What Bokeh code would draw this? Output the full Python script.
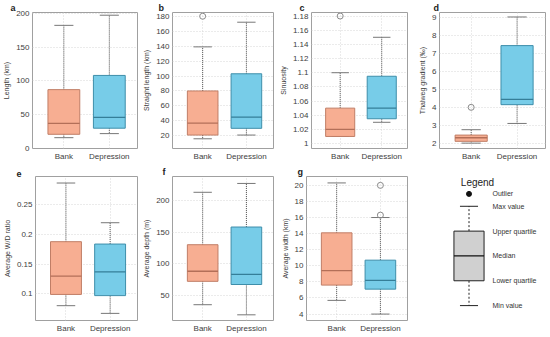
from bokeh.plotting import figure
from bokeh.layouts import row, column
from bokeh.models import Range1d, FixedTicker, Label, ColumnDataSource
from bokeh.core.properties import value
from bokeh.embed import file_html
from bokeh.resources import INLINE

FONT = "Liberation Sans"
categories = ["Bank", "Depression"]

# stats per panel: [min, q1, median, q3, max]
length_bank = [16, 21, 37, 87, 182]
length_dep = [22, 30, 46, 108, 197]
length_out = [[], []]

straight_bank = [16, 21, 37, 80, 139]
straight_dep = [21, 30, 45, 103, 172]
straight_out = [[180], []]

sinu_bank = [1.01, 1.01, 1.02, 1.05, 1.10]
sinu_dep = [1.03, 1.035, 1.05, 1.095, 1.15]
sinu_out = [[1.18], []]

thal_bank = [2.0, 2.1, 2.3, 2.45, 2.75]
thal_dep = [3.1, 4.15, 4.45, 7.45, 9.05]
thal_out = [[4.0], []]

wd_bank = [0.08, 0.099, 0.13, 0.188, 0.287]
wd_dep = [0.067, 0.097, 0.137, 0.184, 0.22]
wd_out = [[], []]

depth_bank = [35, 72, 88, 130, 213]
depth_dep = [19, 67, 83, 158, 227]
depth_out = [[], []]

width_bank = [5.7, 7.6, 9.4, 14.1, 20.3]
width_dep = [4.0, 7.1, 8.2, 10.7, 16.0]
width_out = [[], [16.3, 20.0]]

legend_stats = [0, 1, 2, 3, 4]
legend_out = [4.5]
legend_labels = ["Outlier", "Max value", "Upper quartile", "Median", "Lower quartile", "Min value"]

FILLS = ["#F7AE92", "#77CCE8"]
EDGES = ["#C07E66", "#3E8EAA"]
MEDS = ["#B36F58", "#357E98"]
BW = 0.70
CAP = 0.42
XR = (0.31, 2.62)


def draw_box(p, x, st, fill, edge, med, whisk="#555555", cap="#777777", wdash="1 1"):
    mn, q1, md, q3, mx = st
    p.segment(x0=[x, x], y0=[q3, q1], x1=[x, x], y1=[mx, mn], line_color=whisk,
              line_dash=wdash, line_width=1)
    p.segment(x0=[x - CAP / 2] * 2, y0=[mx, mn], x1=[x + CAP / 2] * 2, y1=[mx, mn],
              line_color=cap, line_width=1)
    p.quad(left=[x - BW / 2], right=[x + BW / 2], bottom=[q1], top=[q3],
           fill_color=fill, line_color=edge, line_width=1)
    p.segment(x0=[x - BW / 2], y0=[md], x1=[x + BW / 2], y1=[md], line_color=med, line_width=1.3)


def panel(letter, ylabel, bank, dep, outs, yr, ticks, fmt, w, h, bl, bb, br, loff):
    p = figure(width=w, height=h, output_backend="svg", toolbar_location=None,
               x_range=Range1d(*XR), y_range=Range1d(*yr),
               min_border_left=bl, min_border_top=0, min_border_bottom=bb, min_border_right=br)
    p.title.text = letter
    p.title.text_font = FONT
    p.title.text_font_size = "9px"
    p.title.text_font_style = "bold"
    p.title.text_color = "#222222"
    p.title.align = "left"
    p.title.offset = -loff
    p.title.standoff = 0
    p.outline_line_color = "#a0a0a0"
    p.outline_line_width = 1
    p.background_fill_color = "white"
    p.border_fill_color = "white"
    p.xgrid.ticker = FixedTicker(ticks=[1, 2])
    for g in (p.xgrid, p.ygrid):
        g.grid_line_color = "#d6d6d6"
        g.grid_line_dash = "1 2"
    p.xaxis.ticker = FixedTicker(ticks=[1, 2])
    p.xaxis.major_label_overrides = {1: categories[0], 2: categories[1]}
    p.yaxis.ticker = FixedTicker(ticks=ticks)
    p.yaxis.major_label_overrides = {t: fmt(t) for t in ticks}
    for ax in (p.xaxis, p.yaxis):
        ax.axis_line_color = None
        ax.major_tick_line_color = None
        ax.minor_tick_line_color = None
        ax.major_tick_out = 0
        ax.major_tick_in = 0
        ax.minor_tick_out = 0
        ax.minor_tick_in = 0
        ax.major_label_text_font = FONT
        ax.major_label_text_font_size = "8px"
        ax.major_label_text_color = "#404040"
        ax.major_label_standoff = 3
    p.yaxis.axis_label = ylabel
    p.yaxis.axis_label_text_font = FONT
    p.yaxis.axis_label_text_font_size = "7px"
    p.yaxis.axis_label_text_font_style = "normal"
    p.yaxis.axis_label_text_color = "#404040"
    p.yaxis.axis_label_standoff = 3
    for i, st in enumerate([bank, dep]):
        draw_box(p, i + 1, st, FILLS[i], EDGES[i], MEDS[i])
        if outs[i]:
            p.scatter(x=[i + 1] * len(outs[i]), y=outs[i], size=6, marker="circle",
                      fill_color=None, line_color="#8a8a8a", line_width=1)
    return p


def nf(t):
    return "%g" % t


TH, BH = 163, 172
W = [140, 136, 134, 138]
BL = [32, 30, 30, 29]
pa = panel("a", "Length (km)", length_bank, length_dep, length_out, (0, 201),
           [0, 50, 100, 150, 200], nf, W[0], TH, BL[0], 14, 3, 22)
pb = panel("b", "Straight length (km)", straight_bank, straight_dep, straight_out, (3, 185),
           [20, 40, 60, 80, 100, 120, 140, 160, 180], nf, W[1], TH, BL[1], 14, 3, 14)
pc = panel("c", "Sinuosity", sinu_bank, sinu_dep, sinu_out, (0.993, 1.185),
           [1.0, 1.02, 1.04, 1.06, 1.08, 1.1, 1.12, 1.14, 1.16, 1.18], nf, W[2], TH, BL[2], 14, 3, 12)
pd = panel("d", "Thalweg gradient (\u2030)", thal_bank, thal_dep, thal_out, (1.7, 9.3),
           [2, 3, 4, 5, 6, 7, 8, 9], nf, W[3], TH, BL[3], 14, 3, 6)
pe = panel("e", "Average W/D ratio", wd_bank, wd_dep, wd_out, (0.055, 0.298),
           [0.1, 0.15, 0.2, 0.25], nf, W[0], BH, BL[0], 14, 3, 19)
pf = panel("f", "Average depth (m)", depth_bank, depth_dep, depth_out, (10, 238),
           [50, 100, 150, 200], nf, W[1], BH, BL[1], 14, 3, 10)
pg = panel("g", "Average width (km)", width_bank, width_dep, width_out, (3.2, 21.1),
           [4, 6, 8, 10, 12, 14, 16, 18, 20], nf, W[2], BH, BL[2], 14, 3, 9)

# legend panel (schematic box drawn from legend_stats)
lw_px = 43.0
ppu = 25.0
LB_T, LB_B = 13, 14
LF_W = W[3] - BL[3] - 3
LF_H = BH - LB_T - LB_B
x0 = 1 - 29.5 / lw_px
y0 = -15 / ppu
pl = figure(width=W[3], height=BH, output_backend="svg", toolbar_location=None,
            x_axis_location=None, y_axis_location=None,
            x_range=Range1d(x0, x0 + LF_W / lw_px),
            y_range=Range1d(y0, y0 + LF_H / ppu),
            min_border_left=BL[3], min_border_right=3, min_border_top=LB_T, min_border_bottom=LB_B)
pl.grid.visible = False
pl.outline_line_color = None
draw_box(pl, 1, legend_stats, "#d0d0d0", "#222222", "#111111", whisk="#222222", cap="#222222", wdash="2 2")
pl.scatter(x=[1], y=legend_out, size=5, marker="circle", fill_color="#111111", line_color="#111111")
label_y = legend_out + legend_stats[::-1]
src = ColumnDataSource(dict(x=[1 + 23.5 / lw_px] * len(label_y), y=label_y, t=legend_labels))
pl.text(x="x", y="y", text="t", source=src, text_font_size="7px", text_baseline="middle",
        text_color="#333333", text_font=value(FONT))
pl.add_layout(Label(x=1 + 8.5 / lw_px, y=legend_out[0] + 11 / ppu, text="Legend",
                    text_font=FONT, text_font_size="10px", text_align="center",
                    text_baseline="middle", text_color="#222222"))

layout = column(row(pa, pb, pc, pd), row(pe, pf, pg, pl))
open("out.html", "w").write(file_html(layout, INLINE))
